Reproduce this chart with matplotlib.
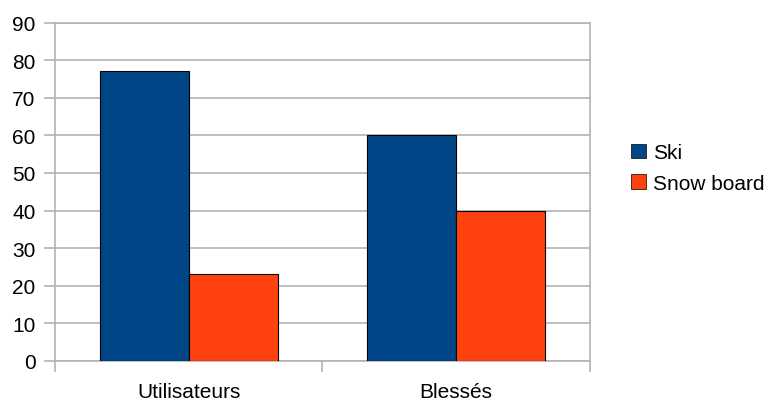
import matplotlib.pyplot as plt
import numpy as np
from matplotlib.patches import Patch

categories = ["Utilisateurs", "Blessés"]
ski = [77, 60]
snowboard = [23, 40]
series_names = ["Ski", "Snow board"]
yticks = list(range(0, 100, 10))

plt.rcParams['font.family'] = ['Liberation Sans', 'DejaVu Sans']
grid_color = "#b3b3b3"
blue = "#004586"
orange = "#ff420e"

fig = plt.figure(figsize=(7.69, 4.06), dpi=100)
ax = fig.add_axes([55 / 769, 44 / 406, 534.5 / 769, 338.5 / 406])

x = np.arange(len(categories))
w = 1 / 3
ax.bar(x - w / 2, ski, w, color=blue, edgecolor="black", linewidth=0.8, zorder=3)
ax.bar(x + w / 2, snowboard, w, color=orange, edgecolor="black", linewidth=0.8, zorder=3)

ax.set_xlim(-0.5, len(categories) - 0.5)
ax.set_ylim(0, 90)
ax.set_yticks(yticks)
ax.set_yticklabels([str(t) for t in yticks], fontsize=15)
ax.yaxis.grid(True, color=grid_color, linewidth=1.2, zorder=0)

# category labels in the middle, tick marks on the boundaries
ax.set_xticks(np.arange(-0.5, len(categories), 1.0))
ax.set_xticklabels([])
ax.set_xticks(x, minor=True)
ax.set_xticklabels(categories, minor=True, fontsize=15)
ax.tick_params(axis="x", which="minor", length=0, pad=15)
ax.tick_params(axis="x", which="major", length=8, color=grid_color, width=1.2)
ax.tick_params(axis="y", length=8, color=grid_color, width=1.2, pad=6)

for s in ax.spines.values():
    s.set_color(grid_color)
    s.set_linewidth(1.2)

handles = [Patch(facecolor=blue, edgecolor="black", linewidth=0.5),
           Patch(facecolor=orange, edgecolor="black", linewidth=0.5)]
fig.legend(handles, series_names, loc="center left", bbox_to_anchor=(621 / 769, 1 - 169 / 406),
           frameon=False, fontsize=15, handlelength=0.7, handleheight=0.7,
           handletextpad=0.35, labelspacing=0.55, borderpad=0)

fig.savefig("out.png", dpi=100)
